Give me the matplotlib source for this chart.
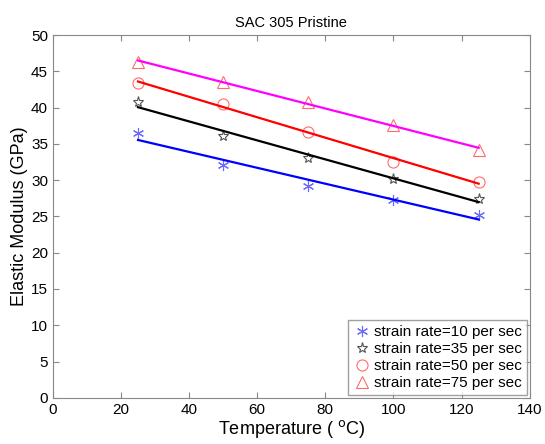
import numpy as np
import matplotlib
matplotlib.use("Agg")
from matplotlib import pyplot as plt

temps = [25, 50, 75, 100, 125]
rate10 = [36.5, 32.1, 29.2, 27.3, 25.2]
rate35 = [40.8, 36.1, 33.1, 30.2, 27.4]
rate50 = [43.4, 40.5, 36.6, 32.5, 29.8]
rate75 = [46.3, 43.5, 40.8, 37.6, 34.2]
labels = ["strain rate=10 per sec", "strain rate=35 per sec",
          "strain rate=50 per sec", "strain rate=75 per sec"]

plt.rcParams['font.family'] = ['Liberation Sans', 'DejaVu Sans']

fig = plt.figure(figsize=(5.45, 4.44), dpi=100)
ax = fig.add_axes([0.097, 0.104, 0.875, 0.817])

# markers (legend entries) then linear fit lines
styles = [('*', '#6a6aff', '#0000ff', 8), ('*', '#555555', 'k', 8),
          ('o', '#ff6b6b', '#ff0000', 8), ('^', '#ff6b6b', '#ff00ff', 8)]
x = np.array(temps)
for ys, lab, (mk, mc, lc, ms) in zip([rate10, rate35, rate50, rate75], labels, styles):
    if mk == '*' and lc == '#0000ff':
        ax.plot(x, ys, ls='none', marker=(6, 2, 0), ms=ms, mec=mc, mew=0.8, label=lab)
    else:
        ax.plot(x, ys, ls='none', marker=mk, ms=ms, mfc='none', mec=mc, mew=0.8, label=lab)
for ys, (mk, mc, lc, ms) in zip([rate10, rate35, rate50, rate75], styles):
    p = np.polyfit(x, ys, 1)
    ax.plot(x, np.polyval(p, x), color=lc, lw=1.6)

ax.set_xlim(0, 140)
ax.set_ylim(0, 50)
ax.set_xticks(range(0, 141, 20))
ax.set_yticks(range(0, 51, 5))
ax.tick_params(direction='in', top=True, right=True, labelsize=11, length=4, color='#888888')
for s in ax.spines.values():
    s.set_color('#888888')
ax.set_title("SAC 305 Pristine", fontsize=10.5)
ax.set_xlabel(r"Temperature ( $^{\mathrm{o}}$C)", fontsize=13, labelpad=1)
ax.set_ylabel("Elastic Modulus (GPa)", fontsize=13, labelpad=2)
ax.legend(loc='lower right', fontsize=11, handletextpad=0.2, handlelength=1.2,
          borderpad=0.3, labelspacing=0.2, fancybox=False, edgecolor='#888888',
          borderaxespad=0.2)

fig.savefig("out.png", dpi=100)
